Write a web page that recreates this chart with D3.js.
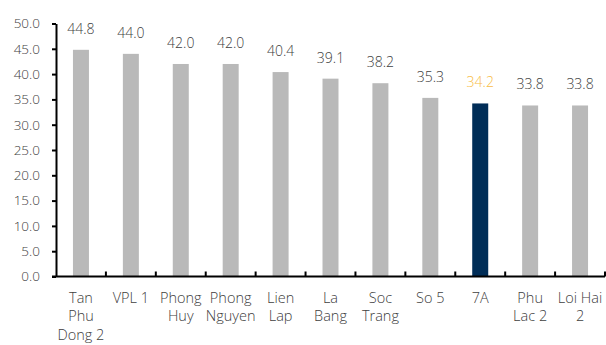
<!DOCTYPE html>
<html><head><meta charset="utf-8">
<script src="https://cdn.jsdelivr.net/npm/d3@7"></script>
<style>body{margin:0;background:#fff}svg{display:block}text{font-family:"Open Sans",sans-serif;font-weight:300}</style>
</head><body><svg id="c" width="606" height="345"></svg>
<script>
const categories = [["Tan","Phu","Dong 2"],["VPL 1"],["Phong","Huy"],["Phong","Nguyen"],["Lien","Lap"],["La","Bang"],["Soc","Trang"],["So 5"],["7A"],["Phu","Lac 2"],["Loi Hai","2"]];
const values = [44.8,44.0,42.0,42.0,40.4,39.1,38.2,35.3,34.2,33.8,33.8];
const highlight = "7A";
const yTicks = [0,5,10,15,20,25,30,35,40,45,50];

const svg = d3.select("#c");
const m = {left:56, right:0, top:23.5, bottom:68.5};
const W = 606, H = 345;
const keys = categories.map(c=>c.join(" "));
const xb = d3.scaleBand().domain(keys).range([m.left, W - 1]);
const y = d3.scaleLinear().domain([0,50]).range([H - m.bottom, m.top]);

svg.selectAll("rect.bar").data(values).join("rect")
  .attr("x",(d,i)=>xb(keys[i]) + xb.bandwidth()/2 - 8)
  .attr("width",16)
  .attr("y",d=>y(d))
  .attr("height",d=>y(0)-y(d))
  .attr("fill",(d,i)=>keys[i]===highlight ? "#002D57" : "#B9B9B9");

svg.selectAll("text.val").data(values).join("text")
  .attr("x",(d,i)=>xb(keys[i]) + xb.bandwidth()/2)
  .attr("y",d=>y(d)-16)
  .attr("text-anchor","middle")
  .attr("font-size","14px")
  .attr("fill",(d,i)=>keys[i]===highlight ? "#F8BC45" : "#404040")
  .text(d=>d.toFixed(1));

const ya = svg.append("g").attr("transform",`translate(${m.left},0)`)
  .call(d3.axisLeft(y).tickValues(yTicks).tickFormat(d3.format(".1f")).tickSize(4).tickSizeOuter(0));
ya.select(".domain").attr("stroke","#000").attr("stroke-width",2);
ya.selectAll(".tick line").attr("stroke","#000").attr("stroke-width",2);
ya.selectAll(".tick text").attr("font-size","13.5px").attr("fill","#404040").attr("x",-16)
  .attr("font-family","'Open Sans',sans-serif").attr("font-weight",300);

const xa = svg.append("g").attr("transform",`translate(0,${y(0)})`);
xa.append("line").attr("x1",m.left-4).attr("x2",W-1).attr("y1",0).attr("y2",0).attr("stroke","#000").attr("stroke-width",2);
const bounds = keys.map(k=>xb(k)+xb.bandwidth());
xa.selectAll("line.tk").data(bounds).join("line")
  .attr("x1",d=>d).attr("x2",d=>d).attr("y1",0).attr("y2",-5)
  .attr("stroke","#000").attr("stroke-width",2);

const cl = svg.selectAll("text.cat").data(categories).join("text")
  .attr("text-anchor","middle")
  .attr("font-size","14.5px")
  .attr("fill","#404040")
  .attr("transform",(d,i)=>`translate(${xb(keys[i]) + xb.bandwidth()/2},${y(0)+26})`);
cl.selectAll("tspan").data(d=>d).join("tspan")
  .attr("x",0).attr("dy",(d,j)=>j===0?0:18.5).text(d=>d);
</script></body></html>
